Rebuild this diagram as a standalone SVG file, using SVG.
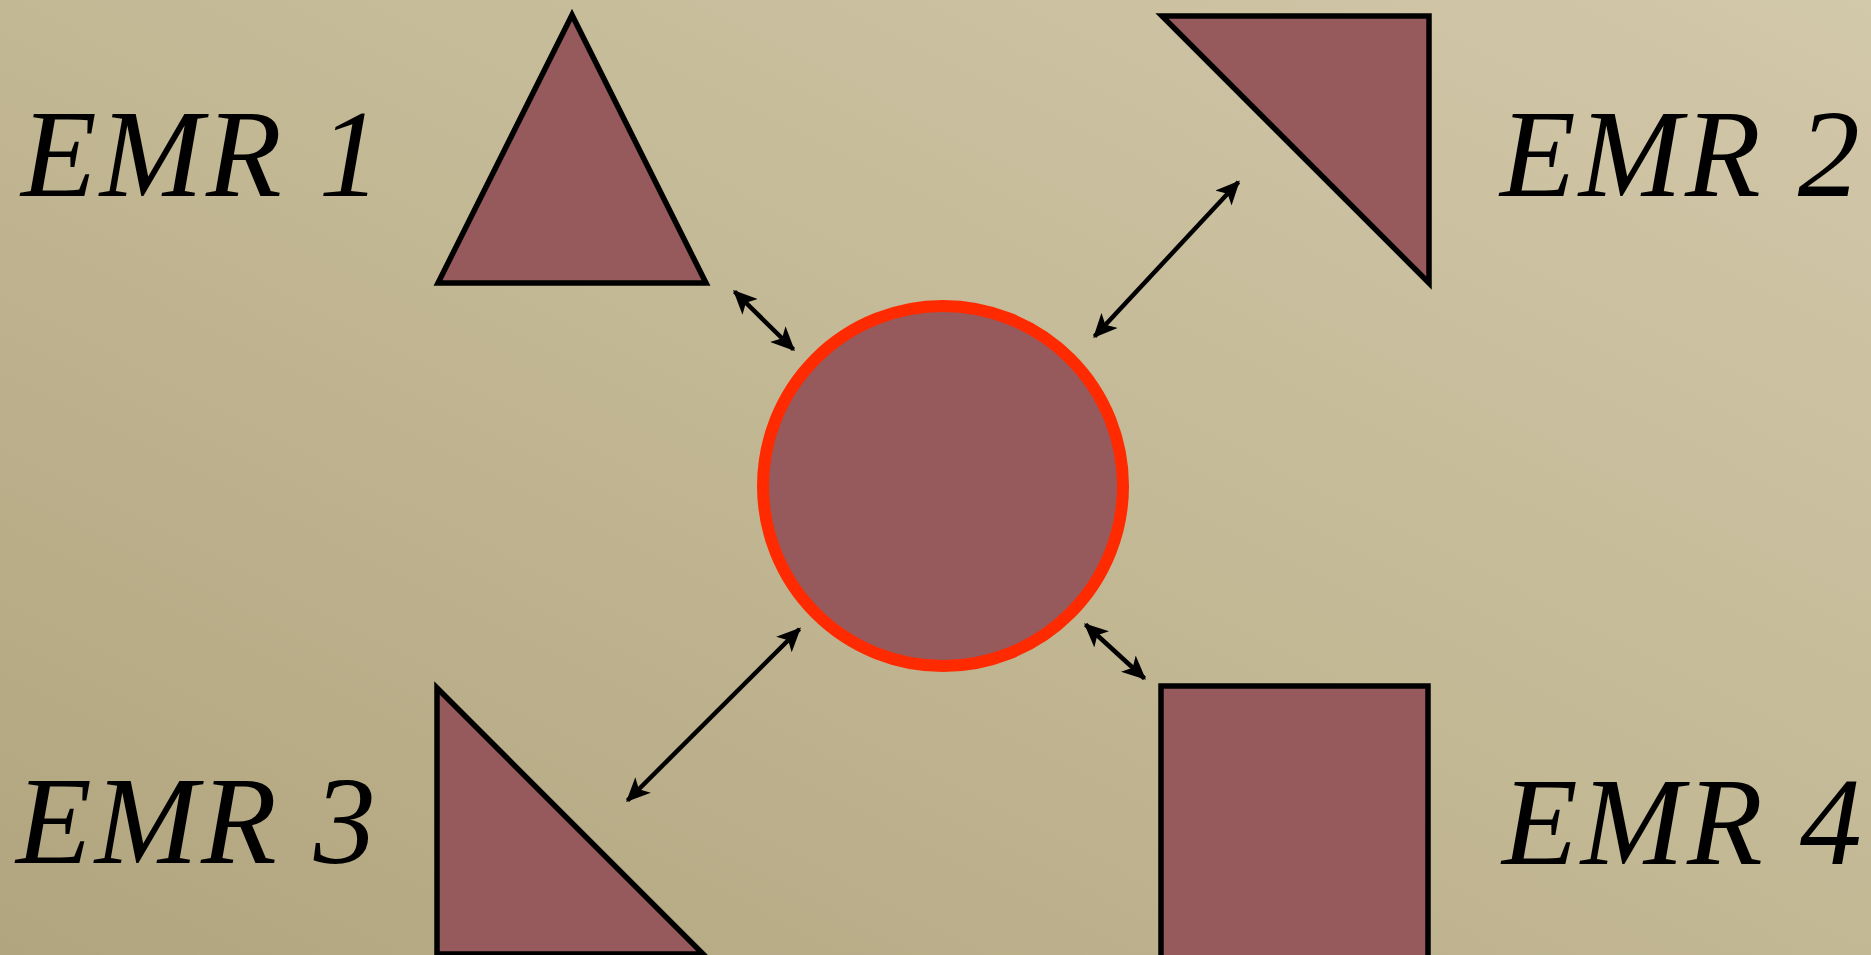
<svg xmlns="http://www.w3.org/2000/svg" width="1871" height="955" viewBox="0 0 1871 955">
<defs>
<linearGradient id="bg" x1="1" y1="0" x2="0" y2="1">
<stop offset="0" stop-color="#d2c8aa"/>
<stop offset="0.5" stop-color="#c3b894"/>
<stop offset="1" stop-color="#b0a57e"/>
</linearGradient>
<marker id="ah" viewBox="0 0 24 22" refX="22" refY="11" markerWidth="24" markerHeight="22" markerUnits="userSpaceOnUse" orient="auto-start-reverse">
<path d="M0,0 L24,11 L0,22 L6,11 z" fill="#000"/>
</marker>
<style>
.shape{fill:#975a5c;stroke:#000;stroke-width:5.5;stroke-linejoin:miter}
.lbl{font-family:"Liberation Serif","Times New Roman",serif;font-style:italic;font-size:124px;letter-spacing:3px;fill:#000}
.conn{stroke:#000;stroke-width:4.5;fill:none;marker-start:url(#ah);marker-end:url(#ah)}
</style>
</defs>
<rect x="0" y="0" width="1871" height="955" fill="url(#bg)"/>
<g id="emr1">
<polygon class="shape" points="572,15 438,283 706,283"/>
<text class="lbl" x="21" y="196">EMR 1</text>
</g>
<g id="emr2">
<polygon class="shape" points="1162,16 1429,16 1429,283"/>
<text class="lbl" x="1500" y="196">EMR 2</text>
</g>
<g id="emr3">
<polygon class="shape" points="437,688 437,954 703,954"/>
<text class="lbl" x="16" y="863">EMR 3</text>
</g>
<g id="emr4">
<rect class="shape" x="1161" y="686" width="267" height="275"/>
<text class="lbl" x="1502" y="864">EMR 4</text>
</g>
<g id="center">
<circle cx="943" cy="486" r="180" fill="#975a5c" stroke="#ff2a00" stroke-width="12"/>
</g>
<g id="connectors">
<line class="conn" x1="734.5" y1="291.5" x2="793.5" y2="349.5"/>
<line class="conn" x1="1238.5" y1="182" x2="1094.5" y2="336.5"/>
<line class="conn" x1="799.5" y1="629" x2="627.5" y2="800.5"/>
<line class="conn" x1="1085.5" y1="624.5" x2="1144.5" y2="678.5"/>
</g>
</svg>
